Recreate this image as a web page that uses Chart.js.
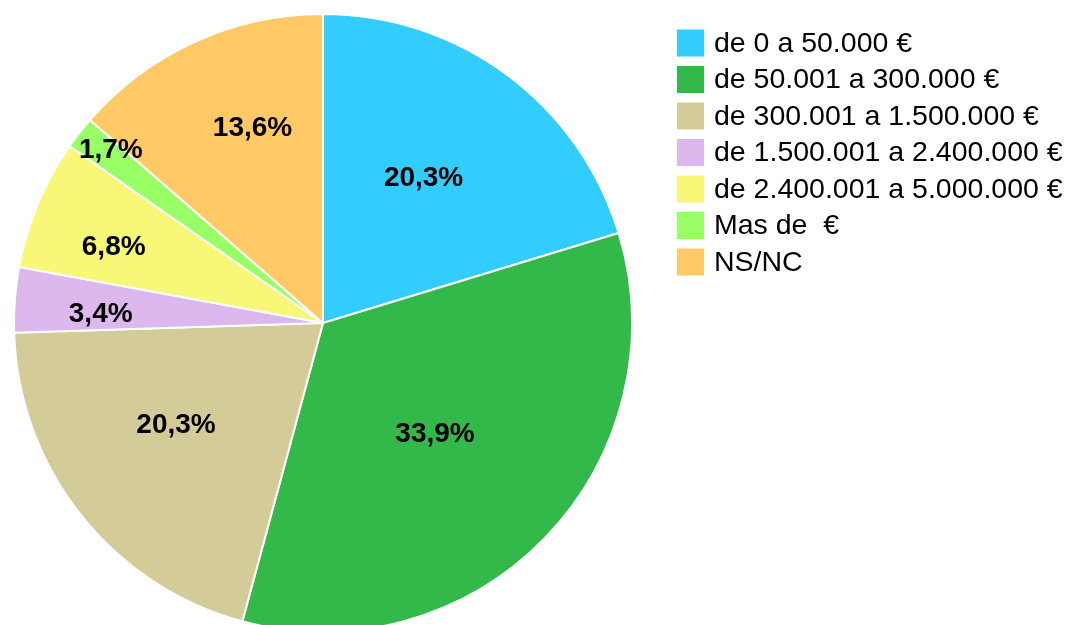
<!DOCTYPE html>
<html>
<head>
<meta charset="utf-8">
<script src="https://cdn.jsdelivr.net/npm/chart.js@4"></script>
<style>
  html, body { margin: 0; padding: 0; background: #fff; }
  canvas { display: block; }
</style>
</head>
<body>
<canvas id="pieChart" width="1067" height="625"></canvas>
<script>
// Datos del gráfico
const categorias = [
    'de 0 a 50.000 €',
    'de 50.001 a 300.000 €',
    'de 300.001 a 1.500.000 €',
    'de 1.500.001 a 2.400.000 €',
    'de 2.400.001 a 5.000.000 €',
    'Mas de  €',
    'NS/NC'
];
const porcentajes = [20.3, 33.9, 20.3, 3.4, 6.8, 1.7, 13.6];
const colores = ['#33CCFF', '#33B84A', '#D3CC99', '#DDB8EE', '#F9F777', '#99FF66', '#FFC966'];

// Etiquetas de porcentaje dentro de cada sector
const etiquetasPlugin = {
    id: 'etiquetas',
    afterDatasetsDraw(chart, args, opts) {
        const ctx = chart.ctx;
        const meta = chart.getDatasetMeta(0);
        ctx.save();
        ctx.font = 'bold 28px "Liberation Sans", Arial, sans-serif';
        ctx.fillStyle = '#000';
        ctx.textAlign = 'center';
        ctx.textBaseline = 'middle';
        meta.data.forEach((arc, i) => {
            const p = arc.getProps(['x', 'y', 'startAngle', 'endAngle', 'outerRadius']);
            const mid = (p.startAngle + p.endAngle) / 2 + (opts.giro[i] || 0);
            const r = p.outerRadius * opts.distancia[i];
            const texto = chart.data.datasets[0].data[i].toFixed(1).replace('.', ',') + '%';
            ctx.fillText(texto, p.x + Math.cos(mid) * r, p.y + Math.sin(mid) * r);
        });
        ctx.restore();
    }
};

// Leyenda dibujada a mano a la derecha
const leyendaPlugin = {
    id: 'leyenda',
    afterDraw(chart, args, opts) {
        const ctx = chart.ctx;
        ctx.save();
        ctx.font = '28.5px "Liberation Sans", Arial, sans-serif';
        ctx.textBaseline = 'middle';
        ctx.textAlign = 'left';
        chart.data.labels.forEach((label, i) => {
            const y = opts.y + i * opts.paso;
            ctx.fillStyle = chart.data.datasets[0].backgroundColor[i];
            ctx.fillRect(opts.x, y - opts.caja / 2, opts.caja, opts.caja);
            ctx.fillStyle = '#000';
            ctx.fillText(label, opts.x + 37, y + 1);
        });
        ctx.restore();
    }
};

new Chart(document.getElementById('pieChart'), {
    type: 'pie',
    data: {
        labels: categorias,
        datasets: [{
            data: porcentajes,
            backgroundColor: colores,
            borderColor: '#ffffff',
            borderWidth: 2,
            radius: 309
        }]
    },
    options: {
        responsive: false,
        animation: false,
        layout: { padding: { left: 0, right: 421, top: 21, bottom: 0 } },
        plugins: {
            legend: { display: false },
            tooltip: { enabled: false },
            etiquetas: {
                distancia: [0.57, 0.51, 0.58, 0.72, 0.72, 0.885, 0.67],
                giro: [-0.03, 0.01, 0.06, -0.035, -0.05, 0.02, 0.08]
            },
            leyenda: { x: 677, y: 43, paso: 36.5, caja: 27 }
        }
    },
    plugins: [etiquetasPlugin, leyendaPlugin]
});
</script>
</body>
</html>
